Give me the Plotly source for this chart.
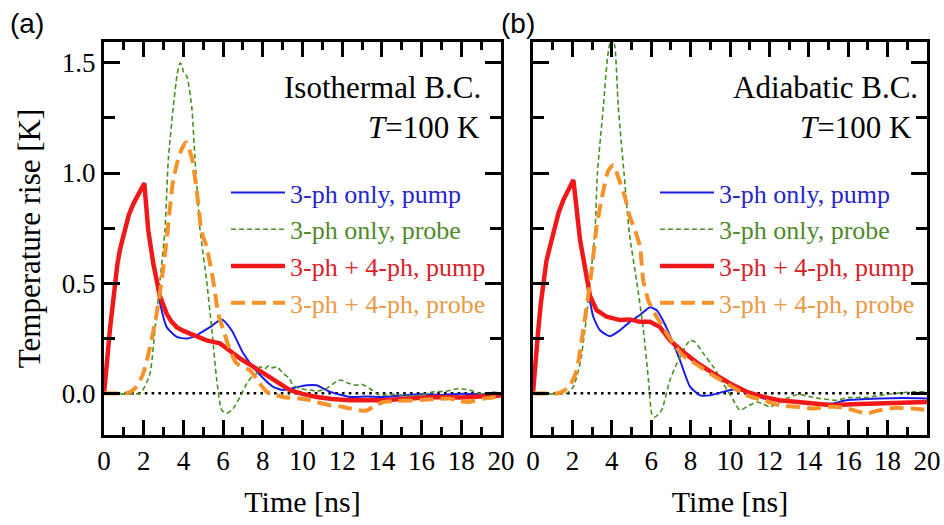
import plotly.graph_objects as go

# ---------------- (a) isothermal boundary condition ----------------
t_iso_3ph_pump = [0, 0.1, 0.2, 0.3, 0.42, 0.55, 0.68, 0.8, 0.93, 1.06, 1.25, 1.48, 1.75, 2.03, 2.23, 2.48,
                  2.82, 3.16, 3.66, 4.17, 4.67, 5.34, 5.93, 6.43, 7.02, 7.5, 8.0, 8.5, 9.03, 9.6, 10.2,
                  10.7, 11.4, 12.4, 13.2, 14.07, 15, 16, 17, 18, 19, 20]
T_iso_3ph_pump = [0, 0.08, 0.19, 0.29, 0.40, 0.51, 0.59, 0.65, 0.70, 0.75, 0.81, 0.86, 0.905, 0.953, 0.74,
                  0.59, 0.41, 0.30, 0.256, 0.248, 0.264, 0.30, 0.335, 0.286, 0.18, 0.12, 0.07, 0.03, 0.014,
                  0.025, 0.036, 0.036, 0.006, -0.017, -0.015, -0.017, -0.01, -0.005, -0.008, -0.003, -0.005,
                  -0.003]

t_iso_3ph_probe = [0, 1.81, 2.05, 2.32, 2.57, 2.82, 3.07, 3.24, 3.49, 3.69, 3.83, 3.92, 4.0, 4.17,
                   4.42, 4.58, 4.75, 4.84, 5.17, 5.43, 5.68, 5.93, 6.18, 6.5, 6.85, 7.19, 7.45, 7.7,
                   7.86, 8.1, 8.3, 8.5, 8.7, 9.03, 9.3, 9.54, 9.9, 10.4, 10.8, 11.2, 11.5, 11.9, 12.3,
                   12.7, 13.0, 13.4, 13.9, 14.5, 15.2, 16.0, 16.6, 17.2, 17.8, 18.4, 19.1, 19.6, 20]
T_iso_3ph_probe = [0, 0, 0.03, 0.09, 0.29, 0.51, 0.74, 1.06, 1.30, 1.45, 1.5, 1.49, 1.46, 1.44,
                   1.30, 1.07, 0.85, 0.74, 0.51, 0.29, 0.06, -0.077, -0.092, -0.07, -0.017, 0.044, 0.075, 0.09,
                   0.12, 0.11, 0.125, 0.115, 0.12, 0.09, 0.07, 0.036, 0.02, 0.014, 0.01, 0.02, 0.04, 0.06, 0.045,
                   0.036, 0.04, 0.02, -0.01, -0.005, -0.012, -0.008, 0.006, 0.008, 0.02, 0.015, -0.005, 0.005, 0.0]

t_iso_34ph_pump = [0, 0.1, 0.2, 0.3, 0.42, 0.55, 0.68, 0.8, 0.93, 1.06, 1.25, 1.48, 1.75, 2.03, 2.23,
                   2.48, 2.82, 3.16, 3.4, 3.66, 4.0, 4.33, 4.75, 5.17, 5.5, 5.84, 6.15, 6.5, 6.9, 7.35,
                   7.85, 8.36, 8.85, 9.37, 10.0, 10.7, 11.5, 12.4, 14.07, 15.5, 16.6, 18, 19.1, 20]
T_iso_34ph_pump = [0, 0.08, 0.19, 0.29, 0.40, 0.51, 0.59, 0.65, 0.70, 0.75, 0.81, 0.86, 0.905, 0.953, 0.74,
                   0.59, 0.44, 0.36, 0.325, 0.30, 0.283, 0.27, 0.255, 0.24, 0.233, 0.226, 0.205, 0.18, 0.155,
                   0.13, 0.10, 0.074, 0.045, 0.014, -0.003, -0.017, -0.026, -0.032, -0.032, -0.025, -0.017,
                   -0.02, -0.017, -0.01]

t_iso_34ph_probe = [0, 1.14, 1.4, 1.64, 1.98, 2.32, 2.65, 2.9, 3.16, 3.49, 3.83, 4.13, 4.42, 4.67,
                    4.92, 5.17, 5.5, 5.76, 6.0, 6.35, 6.68, 7.19, 7.35, 7.8, 8.2, 9.03, 9.87, 10.3, 10.7,
                    11.4, 11.9, 12.4, 13.2, 13.57, 14.07, 14.8, 15.75, 16.5, 17.4, 17.9, 18.3, 19.1, 19.6, 20]
T_iso_34ph_probe = [0, 0, 0.01, 0.03, 0.09, 0.21, 0.36, 0.51, 0.70, 0.97, 1.09, 1.14, 1.07, 0.92,
                    0.73, 0.665, 0.51, 0.36, 0.29, 0.195, 0.135, 0.11, 0.105, 0.05, 0.006, -0.017, -0.024, -0.03,
                    -0.04, -0.055, -0.06, -0.07, -0.08, -0.062, -0.04, -0.035, -0.032, -0.028, -0.024, -0.035,
                    -0.04, -0.025, -0.02, -0.012]

# ---------------- (b) adiabatic boundary condition ----------------
t_adi_3ph_pump = [0, 0.1, 0.27, 0.4, 0.52, 0.68, 0.86, 1.12, 1.3, 1.54, 1.8, 2.05, 2.39, 2.64, 2.85, 3.06,
                  3.4, 3.91, 4.42, 4.92, 5.43, 5.94, 6.28, 6.6, 7.12, 7.46, 7.97, 8.48, 8.98, 9.66, 10.17,
                  10.85, 11.7, 12.5, 13.4, 14.2, 15.2, 15.9, 17.6, 18.8, 20]
T_adi_3ph_pump = [0, 0.12, 0.29, 0.41, 0.51, 0.60, 0.665, 0.756, 0.82, 0.877, 0.92, 0.968, 0.695, 0.56,
                  0.44, 0.347, 0.286, 0.259, 0.286, 0.324, 0.355, 0.39, 0.377, 0.33, 0.226, 0.15, 0.03,
                  -0.01, -0.01, 0.006, 0.017, 0.006, -0.024, -0.032, -0.04, -0.047, -0.047, -0.032, -0.024,
                  -0.022, -0.024]

t_adi_3ph_probe = [0, 1.7, 2.05, 2.39, 2.64, 2.9, 3.15, 3.27, 3.57, 3.79, 4.0, 4.16, 4.33, 4.62, 4.9,
                   5.26, 5.6, 5.86, 6.05, 6.19, 6.53, 6.95, 7.46, 7.97, 8.22, 8.65, 9.15, 9.66, 10.17,
                   10.5, 10.85, 11.35, 11.7, 12.03, 12.54, 13.0, 13.5, 14.0, 14.57, 15.4, 16.0, 16.9,
                   17.6, 18.5, 19.3, 20]
T_adi_3ph_probe = [0, 0, 0.03, 0.135, 0.29, 0.51, 0.74, 1.0, 1.30, 1.53, 1.63, 1.57, 1.30, 1.0, 0.72,
                   0.51, 0.29, 0.06, -0.1, -0.108, -0.077, 0.06, 0.165, 0.24, 0.233, 0.18, 0.12, 0.044, -0.032,
                   -0.077, -0.062, -0.04, -0.05, -0.062, -0.04, -0.02, -0.005, -0.015, -0.024, -0.032, -0.02,
                   -0.02, -0.01, 0.0, 0.006, 0.006]

t_adi_34ph_pump = [0, 0.1, 0.27, 0.4, 0.52, 0.68, 0.86, 1.12, 1.3, 1.54, 1.8, 2.05, 2.39, 2.64, 2.9, 3.23,
                   3.74, 4.42, 4.92, 5.43, 5.94, 6.45, 6.95, 7.46, 8.3, 9.15, 10.0, 10.85, 11.7, 12.5,
                   13.4, 14.2, 15.2, 16.2, 17.1, 18.8, 20]
T_adi_34ph_pump = [0, 0.12, 0.29, 0.41, 0.51, 0.60, 0.665, 0.756, 0.82, 0.877, 0.92, 0.968, 0.695, 0.56,
                   0.44, 0.377, 0.347, 0.332, 0.335, 0.324, 0.324, 0.30, 0.24, 0.2, 0.14, 0.09, 0.044,
                   0.006, -0.017, -0.032, -0.04, -0.047, -0.055, -0.05, -0.047, -0.04, -0.04]

t_adi_34ph_probe = [0, 1.3, 1.54, 1.88, 2.22, 2.47, 2.72, 2.98, 3.23, 3.57, 3.82, 4.08, 4.33, 4.67, 4.92,
                    5.18, 5.43, 5.6, 5.86, 6.19, 6.6, 7.12, 7.63, 8.4, 9.15, 10.0, 10.85, 11.7, 12.5, 13.4,
                    14.2, 15.1, 15.7, 16.26, 16.94, 17.6, 18.5, 19.3, 20]
T_adi_34ph_probe = [0, 0, 0.01, 0.036, 0.105, 0.24, 0.39, 0.56, 0.756, 0.92, 1.01, 1.036, 0.98, 0.89, 0.80,
                    0.74, 0.665, 0.51, 0.42, 0.36, 0.30, 0.226, 0.17, 0.125, 0.08, 0.035, -0.01, -0.032, -0.055,
                    -0.062, -0.07, -0.062, -0.065, -0.077, -0.092, -0.077, -0.066, -0.07, -0.077]

t_baseline = [0, 20]
T_baseline = [0, 0]

series_labels = ["3-ph only, pump", "3-ph only, probe", "3-ph + 4-ph, pump", "3-ph + 4-ph, probe"]
label_colors = ["#2626c8", "#4e8a2c", "#d81f2a", "#ea9a46"]
line_colors = ["#1c1ce6", "#4a8f23", "#f01818", "#f5932a"]
line_widths = [2, 1.6, 4.5, 4]
line_dashes = ["solid", "5px,3px", "solid", "14px,7px"]
line_shapes = ["spline", "spline", "linear", "spline"]

SERIF = "Liberation Serif"
SANS = "Liberation Sans"

panels = [
    ("x", "y", "legend",
     [(t_iso_3ph_pump, T_iso_3ph_pump), (t_iso_3ph_probe, T_iso_3ph_probe),
      (t_iso_34ph_pump, T_iso_34ph_pump), (t_iso_34ph_probe, T_iso_34ph_probe)]),
    ("x2", "y2", "legend2",
     [(t_adi_3ph_pump, T_adi_3ph_pump), (t_adi_3ph_probe, T_adi_3ph_probe),
      (t_adi_34ph_pump, T_adi_34ph_pump), (t_adi_34ph_probe, T_adi_34ph_probe)]),
]

fig = go.Figure()
for xa, ya, leg, curves in panels:
    fig.add_trace(go.Scatter(x=t_baseline, y=T_baseline, mode="lines", xaxis=xa, yaxis=ya,
                             line=dict(color="black", width=2.6, dash="2.6px,4.2px"),
                             showlegend=False, hoverinfo="skip"))
    for i, (tt, vv) in enumerate(curves):
        fig.add_trace(go.Scatter(
            x=tt, y=vv, mode="lines", xaxis=xa, yaxis=ya, legend=leg, showlegend=True,
            name=f'<span style="color:{label_colors[i]}">{series_labels[i]}</span>',
            line=dict(color=line_colors[i], width=line_widths[i], dash=line_dashes[i],
                      shape=line_shapes[i], smoothing=0.6),
        ))


def x_axis(domain, anchor):
    return dict(domain=domain, anchor=anchor, range=[0, 20], tick0=0, dtick=2, tickangle=0,
                ticks="inside", ticklen=15, tickwidth=3, tickcolor="black",
                showline=True, linewidth=3, linecolor="black", mirror="ticks",
                showgrid=False, zeroline=False,
                minor=dict(ticks="inside", ticklen=8, tickwidth=3, tickcolor="black", dtick=1,
                           showgrid=False),
                tickfont=dict(family=SERIF, size=27, color="black"),
                title=dict(text="Time [ns]", font=dict(family=SERIF, size=30, color="black"),
                           standoff=16))


def y_axis(anchor, labels):
    ax = dict(anchor=anchor, domain=[0.1714, 0.92], range=[-0.19, 1.595], tick0=0, dtick=0.5,
              tickformat=".1f", ticks="inside", ticklen=16, tickwidth=3, tickcolor="black",
              showline=True, linewidth=3, linecolor="black", mirror="ticks", showgrid=False,
              zeroline=False, showticklabels=labels,
              minor=dict(ticks="inside", ticklen=11, tickwidth=3, tickcolor="black", dtick=0.25,
                         showgrid=False),
              tickfont=dict(family=SERIF, size=27, color="black"))
    if labels:
        ax["title"] = dict(text="Temperature rise [K]", font=dict(family=SERIF, size=31, color="black"),
                           standoff=12)
    return ax


legend_common = dict(font=dict(family=SERIF, size=26, color="black"), bgcolor="rgba(0,0,0,0)",
                     yanchor="top", xanchor="left", tracegroupgap=0, itemwidth=54)

fig.update_layout(
    template="none",
    width=944, height=525, margin=dict(l=0, r=0, t=0, b=0),
    paper_bgcolor="white", plot_bgcolor="white", showlegend=True,
    font=dict(family=SERIF, size=25, color="black"),
    xaxis=x_axis([104 / 944, 501 / 944], "y"),
    yaxis=y_axis("x", True),
    xaxis2=x_axis([533 / 944, 927 / 944], "y2"),
    yaxis2=y_axis("x2", False),
    legend=dict(x=226 / 944, y=1 - 169 / 525, **legend_common),
    legend2=dict(x=655 / 944, y=1 - 169 / 525, **legend_common),
    annotations=[
        dict(text="(a)", xref="paper", yref="paper", x=8 / 944, y=1 - 24 / 525, xanchor="left",
             yanchor="middle", showarrow=False, font=dict(family=SANS, size=28, color="black")),
        dict(text="(b)", xref="paper", yref="paper", x=499 / 944, y=1 - 24 / 525, xanchor="left",
             yanchor="middle", showarrow=False, font=dict(family=SANS, size=28, color="black")),
        dict(text="Isothermal B.C.", xref="x domain", yref="y domain", x=0.955, y=0.885,
             xanchor="right", yanchor="middle", showarrow=False,
             font=dict(family=SERIF, size=31, color="black")),
        dict(text="<i>T</i>=100 K", xref="x domain", yref="y domain", x=0.952, y=0.782,
             xanchor="right", yanchor="middle", showarrow=False,
             font=dict(family=SERIF, size=31, color="black")),
        dict(text="Adiabatic B.C.", xref="x2 domain", yref="y2 domain", x=0.983, y=0.885,
             xanchor="right", yanchor="middle", showarrow=False,
             font=dict(family=SERIF, size=31, color="black")),
        dict(text="<i>T</i>=100 K", xref="x2 domain", yref="y2 domain", x=0.966, y=0.782,
             xanchor="right", yanchor="middle", showarrow=False,
             font=dict(family=SERIF, size=31, color="black")),
    ],
)

fig.write_html("out.html")
